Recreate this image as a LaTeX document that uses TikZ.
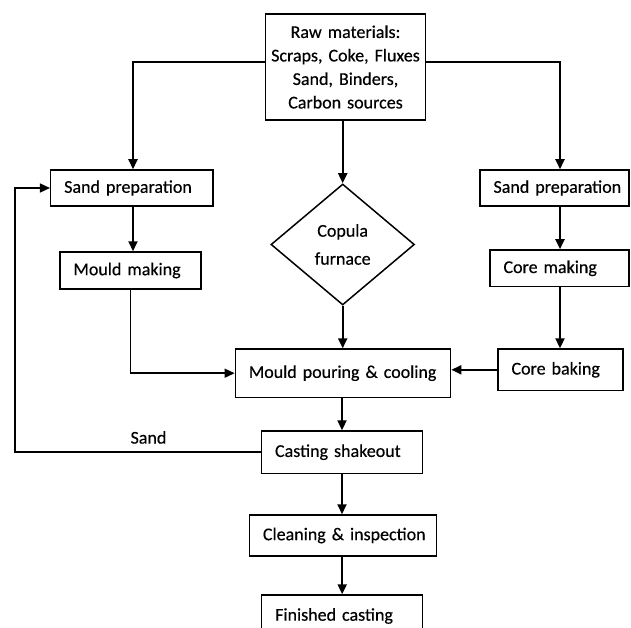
\documentclass[tikz,border=0pt]{standalone}
\usepackage{fontspec}
\setmainfont{Carlito}[FakeBold=0.4]
\usetikzlibrary{arrows.meta,shapes.geometric}
\begin{document}
\begin{tikzpicture}[x=1pt,y=-1pt,
  every node/.style={font=\fontsize{18}{23.5}\selectfont},
  bx/.style={draw, line width=1.5pt, align=left, inner xsep=13.5pt, inner ysep=0pt},
  arr/.style={line width=2pt, -{Triangle[length=10pt,width=9pt]}},
  thinarr/.style={line width=1.5pt, -{Triangle[length=10pt,width=9pt]}}]
\useasboundingbox (0,0) rectangle (631,628);
\clip (0,0) rectangle (631,628);
\node[draw, line width=1.5pt, align=center, text width=160pt, minimum height=106pt, inner sep=0pt] (raw) at (345.5,67) {Raw materials:\\Scraps, Coke, Fluxes\\Sand, Binders,\\Carbon sources};
\node[bx, text width=135.3pt, minimum height=36pt] (sandL) at (131.85,188) {\mbox{Sand preparation}};
\node[bx, text width=114pt, minimum height=37pt] (mould) at (130.5,270.5) {\mbox{Mould making}};
\node[bx, text width=122pt, minimum height=36pt] (sandR) at (554.5,188) {\mbox{Sand preparation}};
\node[bx, text width=112pt, minimum height=36.7pt] (coreM) at (559.5,268.3) {\mbox{Core making}};
\node[bx, text width=98pt, minimum height=41.5pt] (coreB) at (560.5,369.8) {\mbox{Core baking}};
\node[draw, diamond, line width=1.5pt, minimum width=143.5pt, minimum height=121pt, inner sep=0pt, align=center] (furn) at (342.7,244.5) {Copula\\[4.5pt]furnace};
\node[bx, text width=188.3pt, minimum height=48.3pt] (pour) at (343,373.2) {\mbox{Mould pouring \& cooling}};
\node[bx, text width=133.9pt, minimum height=42.3pt] (shake) at (342,452.2) {\mbox{Casting shakeout}};
\node[bx, text width=160.1pt, minimum height=41pt] (clean) at (343,535.5) {\mbox{Cleaning \& inspection}};
\node[bx, text width=134pt, minimum height=42pt] (fin) at (342.2,616) {\mbox{Finished casting}};
\coordinate (rc) at (560,0);
\coordinate (lc) at (133,0);
\coordinate (fb) at (15,0);
\draw[arr] ([yshift=5.3pt]raw.west) -| (lc |- sandL.north);
\draw[arr] ([yshift=5.3pt]raw.east) -| (rc |- sandR.north);
\draw[arr] (furn.north |- raw.south) -- (furn.north);
\draw[arr] (lc |- sandL.south) -- (lc |- mould.north);
\draw[thinarr] (mould.south) |- (pour.west);
\draw[arr] (furn.south) -- (pour.north -| furn.south);
\draw[arr] (rc |- sandR.south) -- (rc |- coreM.north);
\draw[arr] (rc |- coreM.south) -- (rc |- coreB.north);
\draw[arr] (coreB.west) -- (coreB.west -| pour.east);
\draw[arr] (shake.north |- pour.south) -- (shake.north);
\draw[arr] (shake.south) -- (clean.north -| shake.south);
\draw[arr] (clean.south -| fin.north) -- (fin.north);
\draw[thinarr] (shake.west) -- node[pos=0.457, above, inner sep=0pt, yshift=7.7pt] {Sand} (shake.west -| fb) |- (sandL.west);
\end{tikzpicture}
\end{document}
